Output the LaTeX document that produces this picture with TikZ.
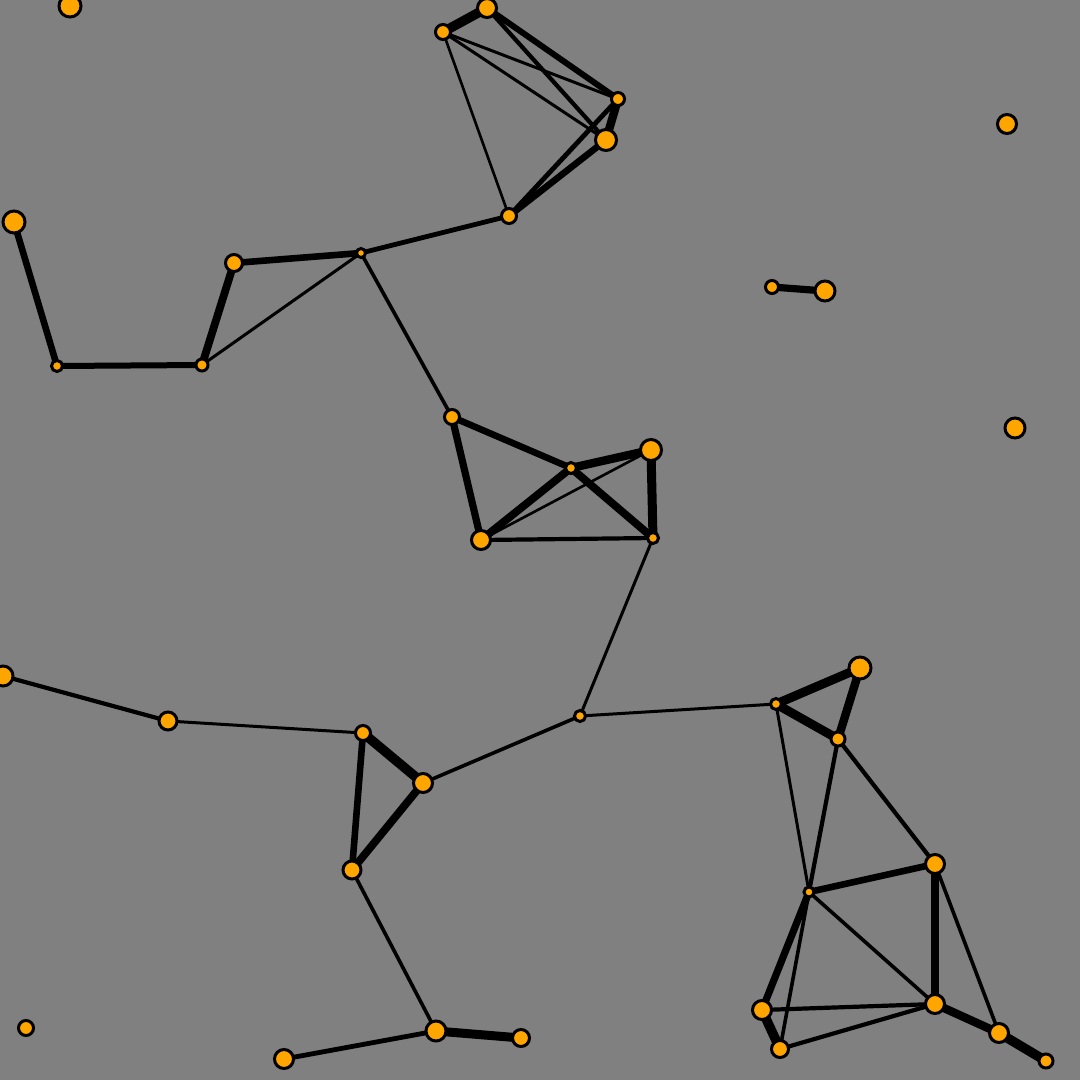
\documentclass[tikz,border=0pt]{standalone}
\pgfdeclarelayer{bglayer}
\pgfdeclarelayer{edges}
\pgfsetlayers{bglayer,edges,main}
\definecolor{bg}{RGB}{128,128,128}
\definecolor{nodeor}{RGB}{255,165,0}
\tikzset{
  vtx/.style={circle,fill=nodeor,draw=black,line width=3pt,inner sep=0pt,minimum size=#1+3pt},
  ed/.style={draw=black,line width=1.2*#1,line cap=round}
}
\newcommand{\E}[3]{\draw[ed=#3] (#1.center) -- (#2.center);}
\begin{document}
\begin{tikzpicture}[x=1pt,y=-1pt]
\begin{pgfonlayer}{bglayer}
\fill[bg] (0,0) rectangle (1080,1080);
\end{pgfonlayer}
\useasboundingbox (0,0) rectangle (1080,1080);
\node[vtx=19pt] (n1) at (70,6) {};
\node[vtx=16pt] (n2) at (487,8) {};
\node[vtx=12pt] (n3) at (443,32) {};
\node[vtx=10pt] (n4) at (618,99) {};
\node[vtx=18pt] (n5) at (606,140) {};
\node[vtx=16pt] (n6) at (1007,124) {};
\node[vtx=12pt] (n7) at (509,216) {};
\node[vtx=19pt] (n8) at (14,222) {};
\node[vtx=6pt] (n9) at (361,253) {};
\node[vtx=14pt] (n10) at (234,263) {};
\node[vtx=10pt] (n11) at (772,287) {};
\node[vtx=17pt] (n12) at (825,291) {};
\node[vtx=8pt] (n13) at (57,366) {};
\node[vtx=9pt] (n14) at (202,365) {};
\node[vtx=12pt] (n15) at (452,417) {};
\node[vtx=17pt] (n16) at (1015,428) {};
\node[vtx=18pt] (n17) at (651,450) {};
\node[vtx=8pt] (n18) at (571,468) {};
\node[vtx=8pt] (n19) at (653,538) {};
\node[vtx=16pt] (n20) at (481,540) {};
\node[vtx=19pt] (n21) at (860,668) {};
\node[vtx=17pt] (n22) at (3,676) {};
\node[vtx=15pt] (n23) at (168,721) {};
\node[vtx=8pt] (n24) at (580,716) {};
\node[vtx=8pt] (n25) at (776,704) {};
\node[vtx=12pt] (n26) at (363,733) {};
\node[vtx=11pt] (n27) at (838,739) {};
\node[vtx=16pt] (n28) at (423,783) {};
\node[vtx=15pt] (n29) at (352,870) {};
\node[vtx=16pt] (n30) at (935,864) {};
\node[vtx=7pt] (n31) at (809,892) {};
\node[vtx=16pt] (n32) at (935,1004) {};
\node[vtx=16pt] (n33) at (762,1010) {};
\node[vtx=16pt] (n34) at (999,1033) {};
\node[vtx=14pt] (n35) at (780,1049) {};
\node[vtx=11pt] (n36) at (1046,1061) {};
\node[vtx=12pt] (n37) at (26,1028) {};
\node[vtx=17pt] (n38) at (436,1031) {};
\node[vtx=14pt] (n39) at (521,1038) {};
\node[vtx=16pt] (n40) at (284,1059) {};
\begin{pgfonlayer}{edges}
\E{n3}{n2}{8pt}
\E{n2}{n4}{5pt}
\E{n2}{n5}{3.5pt}
\E{n3}{n4}{2.5pt}
\E{n3}{n5}{2.5pt}
\E{n3}{n7}{2.2pt}
\E{n4}{n5}{7pt}
\E{n4}{n7}{4pt}
\E{n5}{n7}{5.5pt}
\E{n7}{n9}{4pt}
\E{n9}{n10}{5.5pt}
\E{n9}{n14}{2.5pt}
\E{n9}{n15}{3pt}
\E{n10}{n14}{6.5pt}
\E{n14}{n13}{5pt}
\E{n13}{n8}{5.5pt}
\E{n11}{n12}{6pt}
\E{n15}{n18}{5.5pt}
\E{n15}{n20}{6pt}
\E{n18}{n17}{7pt}
\E{n18}{n19}{6.5pt}
\E{n18}{n20}{6.5pt}
\E{n17}{n19}{7.5pt}
\E{n17}{n20}{2.2pt}
\E{n20}{n19}{3.5pt}
\E{n19}{n24}{2.5pt}
\E{n24}{n25}{2.5pt}
\E{n24}{n28}{3pt}
\E{n25}{n21}{7.5pt}
\E{n25}{n27}{7.5pt}
\E{n21}{n27}{7pt}
\E{n25}{n31}{2.5pt}
\E{n27}{n31}{3.5pt}
\E{n27}{n30}{3.5pt}
\E{n30}{n31}{5.5pt}
\E{n30}{n32}{6pt}
\E{n30}{n34}{3pt}
\E{n31}{n32}{3pt}
\E{n31}{n33}{6pt}
\E{n31}{n35}{3pt}
\E{n33}{n35}{8pt}
\E{n33}{n32}{3.5pt}
\E{n35}{n32}{3.5pt}
\E{n32}{n34}{7pt}
\E{n34}{n36}{8pt}
\E{n22}{n23}{3.5pt}
\E{n23}{n26}{2.5pt}
\E{n26}{n28}{8pt}
\E{n26}{n29}{5.5pt}
\E{n28}{n29}{6.5pt}
\E{n29}{n38}{3pt}
\E{n38}{n39}{7.5pt}
\E{n38}{n40}{4pt}
\end{pgfonlayer}
\end{tikzpicture}
\end{document}
